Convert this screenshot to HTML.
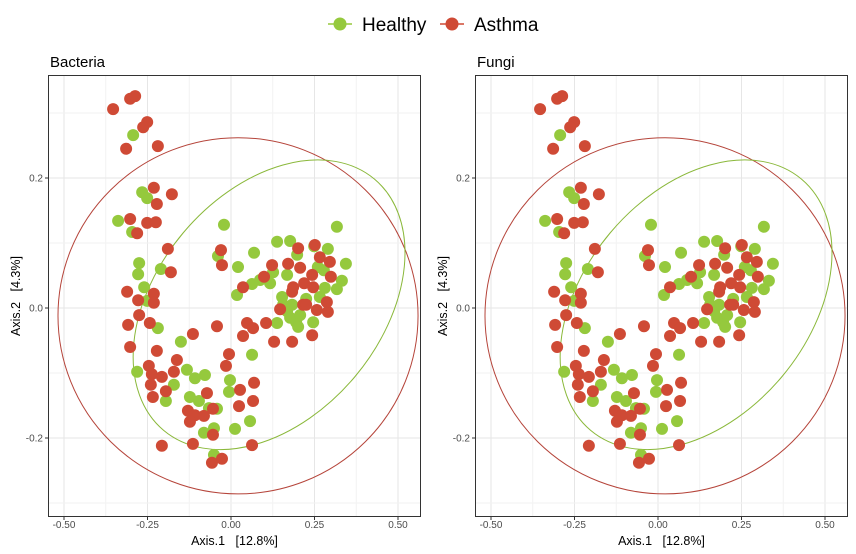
<!DOCTYPE html>
<html><head><meta charset="utf-8"><style>
body{margin:0;background:#fff;}
svg{display:block;font-family:"Liberation Sans",Arial,sans-serif;}
</style></head><body>
<svg id="chart" width="856" height="554" viewBox="0 0 856 554">
<rect width="856" height="554" fill="#fff"/>
<g>
 <g>
  <line x1="328" y1="24" x2="352" y2="24" stroke="#95c93d" stroke-width="1.5"/>
  <circle cx="340" cy="24" r="6.5" fill="#95c93d"/>
  <text x="362" y="31" font-size="19" fill="#000">Healthy</text>
 </g>
 <g>
  <line x1="440" y1="24" x2="464" y2="24" stroke="#cf4a35" stroke-width="1.5"/>
  <circle cx="452" cy="24" r="6.5" fill="#cf4a35"/>
  <text x="474" y="31" font-size="19" fill="#000">Asthma</text>
 </g>
</g>
<g id="panels"></g>
</svg>
<script>
const healthyX=[-0.293,-0.266,-0.251,-0.338,-0.296,-0.021,-0.039,0.021,0.069,-0.275,-0.278,-0.210,-0.260,0.063,-0.251,-0.219,-0.150,-0.281,-0.132,-0.171,-0.195,-0.108,-0.078,-0.123,-0.096,-0.066,-0.042,0.012,0.057,-0.081,-0.051,-0.051,0.018,0.063,-0.003,-0.006,0.317,0.138,0.177,0.198,0.249,0.290,0.344,0.126,0.260,0.278,0.117,0.168,0.087,0.281,0.317,0.332,0.153,0.156,0.168,0.225,0.177,0.195,0.201,0.246,0.266,0.138,0.183,0.207];
const healthyY=[0.266,0.178,0.169,0.134,0.117,0.128,0.080,0.063,0.085,0.069,0.052,0.060,0.032,0.037,0.011,-0.031,-0.052,-0.098,-0.095,-0.118,-0.143,-0.108,-0.103,-0.137,-0.143,-0.154,-0.155,-0.186,-0.174,-0.192,-0.185,-0.226,0.020,-0.072,-0.111,-0.129,0.125,0.102,0.103,0.082,0.095,0.091,0.068,0.055,0.063,0.058,0.038,0.051,0.043,0.031,0.029,0.042,0.017,0.005,-0.005,0.014,-0.015,-0.022,-0.029,-0.022,0.017,-0.023,0.005,-0.011];
const asthmaX=[-0.353,-0.302,-0.287,-0.251,-0.263,-0.314,-0.219,-0.231,-0.177,-0.222,-0.302,-0.251,-0.225,-0.281,-0.189,-0.030,-0.027,-0.180,0.036,-0.311,-0.278,-0.231,-0.231,-0.275,-0.308,-0.243,-0.302,-0.222,-0.114,-0.042,-0.162,-0.246,-0.237,-0.207,-0.171,-0.240,-0.195,-0.234,-0.072,-0.054,-0.129,-0.108,-0.081,-0.123,-0.054,-0.207,-0.114,0.063,-0.057,-0.027,0.048,0.066,0.036,-0.006,-0.015,0.027,0.069,0.024,0.066,0.123,0.201,0.266,0.296,0.171,0.207,0.243,0.299,0.099,0.186,0.183,0.219,0.246,0.147,0.216,0.225,0.257,0.290,0.287,0.105,0.129,0.183,0.243,0.251];
const asthmaY=[0.306,0.322,0.326,0.286,0.278,0.245,0.249,0.185,0.175,0.160,0.137,0.131,0.132,0.115,0.091,0.089,0.066,0.055,0.032,0.025,0.012,0.022,0.008,-0.011,-0.026,-0.023,-0.060,-0.066,-0.040,-0.028,-0.080,-0.089,-0.102,-0.106,-0.098,-0.118,-0.128,-0.137,-0.131,-0.155,-0.158,-0.165,-0.166,-0.175,-0.195,-0.212,-0.209,-0.211,-0.238,-0.232,-0.023,-0.031,-0.043,-0.071,-0.089,-0.126,-0.115,-0.151,-0.143,0.066,0.092,0.078,0.071,0.068,0.062,0.051,0.048,0.048,0.032,0.025,0.038,0.032,-0.002,0.005,0.005,-0.003,-0.006,0.009,-0.023,-0.052,-0.052,-0.042,0.097];
const xTicks=[-0.5,-0.25,0,0.25,0.5];
const xTickLabels=["-0.50","-0.25","0.00","0.25","0.50"];
const yTicks=[-0.2,0,0.2];
const yTickLabels=["-0.2","0.0","0.2"];
const panelTitles=["Bacteria","Fungi"];

const NS="http://www.w3.org/2000/svg";
function mk(tag,attrs,parent){const e=document.createElementNS(NS,tag);for(const k in attrs)e.setAttribute(k,attrs[k]);parent.appendChild(e);return e;}
const root=document.getElementById('panels');
const GREEN="#95c93d",RED="#cf4a35";
const panels=[{left:48,right:421,zero:231},{left:475,right:848,zero:658}];
panels.forEach((p,pi)=>{
  const sx=v=>p.zero+v*334;
  const sy=v=>308-v*650;
  const top=75,bottom=517;
  const g=mk('g',{},root);
  
  
  for(let v=-0.625;v<=0.625;v+=0.125){const x=sx(v);if(x<=p.left||x>=p.right)continue;
    const l=mk('line',{x1:x,x2:x,y1:top,y2:bottom,stroke:(Math.abs(v*4-Math.round(v*4))<1e-6)?'#e6e6e6':'#f2f2f2','stroke-width':1},g);
    }
  for(let k=-4;k<=4;k++){const v=k*0.1;const y=sy(v);if(y<=top||y>=bottom)continue;
    const l=mk('line',{x1:p.left,x2:p.right,y1:y,y2:y,stroke:(k%2===0)?'#e6e6e6':'#f2f2f2','stroke-width':1},g);
    }
  const er=mk('ellipse',{cx:sx(0.021),cy:sy(-0.012),rx:0.539*334,ry:0.274*650,fill:'none',stroke:'#b5443a','stroke-width':1},g);
  
  const gcx=sx(0.114),gcy=sy(0.005);
  const eg=mk('ellipse',{cx:gcx,cy:gcy,rx:164,ry:112,transform:`rotate(-50 ${gcx} ${gcy})`,fill:'none',stroke:'#8ab83a','stroke-width':1},g);
  
  healthyX.forEach((v,i)=>{const c=mk('circle',{cx:sx(v),cy:sy(healthyY[i]),r:6,fill:GREEN},g);
    });
  asthmaX.forEach((v,i)=>{const c=mk('circle',{cx:sx(v),cy:sy(asthmaY[i]),r:6,fill:RED},g);
    });
  const b=mk('rect',{x:p.left+0.5,y:top+0.5,width:p.right-p.left-1,height:bottom-top-1,fill:'none',stroke:'#333','stroke-width':1},g);
  
  xTicks.forEach((v,i)=>{const x=sx(v);
    mk('line',{x1:x,x2:x,y1:bottom,y2:bottom+3,stroke:'#333'},g);
    const t=mk('text',{x:x,y:bottom+11,'font-size':10,'text-anchor':'middle',fill:'#4d4d4d'},g);
    t.textContent=xTickLabels[i];
    });
  yTicks.forEach((v,i)=>{const y=sy(v);
    mk('line',{x1:p.left-3,x2:p.left,y1:y,y2:y,stroke:'#333'},g);
    const t=mk('text',{x:p.left-5,y:y+3.5,'font-size':10,'text-anchor':'end',fill:'#4d4d4d'},g);
    t.textContent=yTickLabels[i];
    });
  const tt=mk('text',{x:p.left+2,y:67,'font-size':15,fill:'#000'},g);
  tt.textContent=panelTitles[pi];
  
  const xt=mk('text',{x:(p.left+p.right)/2,y:545,'font-size':12.5,'text-anchor':'middle',fill:'#000'},g);
  xt.textContent='Axis.1\u00a0\u00a0\u00a0[12.8%]';
  
  const yx=p.left-28;
  const yt=mk('text',{x:yx,y:296,'font-size':12.5,'text-anchor':'middle',fill:'#000',transform:`rotate(-90 ${yx} 296)`},g);
  yt.textContent='Axis.2\u00a0\u00a0\u00a0[4.3%]';
  
});
</script>
</body></html>
